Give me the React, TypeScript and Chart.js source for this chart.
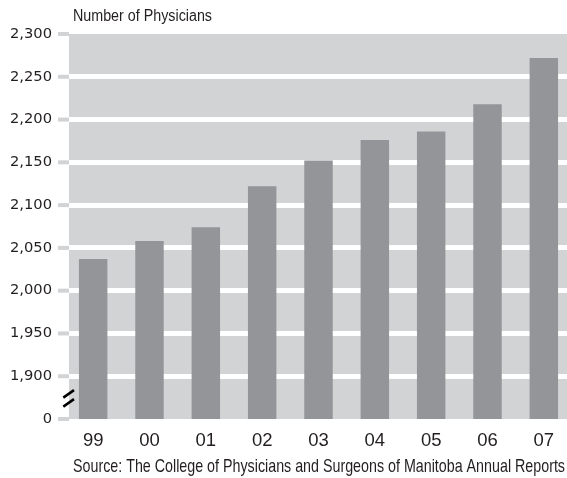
import React, { useEffect, useRef } from 'react';
import { Chart, registerables } from 'chart.js';

Chart.register(...registerables);

const years = ['99', '00', '01', '02', '03', '04', '05', '06', '07'];
const physicians = [2037, 2058, 2074, 2122, 2152, 2176, 2186, 2218, 2272];
const axisTitle = 'Number of Physicians';
const sourceNote = 'Source: The College of Physicians and Surgeons of Manitoba Annual Reports';
const yMin = 1850;
const yMax = 2300;
const yStep = 50;
const breakLabel = '0';

const TEXT = '#231f20';
const PLOT_BG = '#d1d3d4';
const BAR = '#939598';
const NUM_FONT = '"Liberation Sans", Arial, sans-serif';
const Y_FONT = '"DejaVu Sans", "Liberation Sans", sans-serif';
const TXT_FONT = '"Liberation Sans", Arial, sans-serif';

const decor = {
  id: 'decor',
  beforeDraw(chart: any) {
    const { ctx, chartArea: a } = chart;
    ctx.save();
    ctx.fillStyle = PLOT_BG;
    ctx.fillRect(a.left + 4, a.top, a.right - a.left - 4, a.bottom - a.top);
    ctx.restore();
  },
  afterDraw(chart: any) {
    const { ctx, chartArea: a, scales } = chart;
    const y = scales.y;
    const bgLeft = a.left + 4;
    ctx.save();
    ctx.fillStyle = PLOT_BG;
    y.ticks.forEach((t: any) => {
      const py = y.getPixelForValue(t.value);
      ctx.fillRect(bgLeft - 11, py - 2, 11, 4);
    });
    // axis break marks
    const y0 = y.getPixelForValue(yMin);
    const y1 = y.getPixelForValue(yMin + yStep);
    const mid = (y0 + y1) / 2;
    ctx.strokeStyle = '#000';
    ctx.lineWidth = 2.5;
    ctx.lineCap = 'butt';
    ctx.beginPath();
    ctx.moveTo(bgLeft - 5.7, mid);
    ctx.lineTo(bgLeft + 5, mid - 7.5);
    ctx.moveTo(bgLeft - 5.7, mid + 9);
    ctx.lineTo(bgLeft + 5, mid + 1.5);
    ctx.stroke();
    // texts
    ctx.fillStyle = TEXT;
    ctx.textAlign = 'left';
    ctx.textBaseline = 'alphabetic';
    ctx.font = '16px ' + TXT_FONT;
    ctx.fillText(axisTitle, bgLeft + 4, 21, 139);
    ctx.font = '18.5px ' + TXT_FONT;
    ctx.fillText(sourceNote, bgLeft + 4, 472, 492);
    ctx.restore();
  },
};

export default function App() {
  const ref = useRef<HTMLCanvasElement>(null);
  useEffect(() => {
    if (!ref.current) return;
    const chart = new Chart(ref.current, {
      type: 'bar',
      data: {
        labels: years,
        datasets: [
          {
            data: physicians,
            backgroundColor: BAR,
            borderWidth: 0,
            barPercentage: 0.505,
            categoryPercentage: 1,
          },
        ],
      },
      options: {
        animation: false,
        responsive: true,
        maintainAspectRatio: false,
        layout: { padding: { top: 34, right: 8, left: 0, bottom: 0 } },
        plugins: { legend: { display: false }, tooltip: { enabled: false }, title: { display: false } },
        scales: {
          x: {
            type: 'category',
            grid: { display: false },
            border: { display: false },
            ticks: { color: TEXT, font: { family: NUM_FONT, size: 18.5 }, padding: 3, maxRotation: 0 },
            afterFit(scale: any) {
              scale.height = 59;
            },
          },
          y: {
            type: 'linear',
            min: yMin,
            max: yMax,
            border: { display: false },
            grid: {
              drawTicks: false,
              lineWidth: 5,
              color: (c: any) =>
                c.tick && (c.tick.value === yMin || c.tick.value === yMax) ? 'rgba(0,0,0,0)' : '#ffffff',
            },
            ticks: {
              stepSize: yStep,
              padding: 13,
              color: TEXT,
              font: { family: Y_FONT, size: 14.7 },
              callback: (v: any) => (v === yMin ? breakLabel : Number(v).toLocaleString('en-US')),
            },
            afterFit(scale: any) {
              scale.width = 65;
            },
          },
        },
      },
      plugins: [decor],
    });
    return () => chart.destroy();
  }, []);
  return (
    <div style={{ position: 'absolute', left: 0, top: 0, width: 567, height: 478, overflow: 'hidden', background: '#fff' }}>
      <div style={{ position: 'relative', width: 580, height: 478 }}>
        <canvas ref={ref} />
      </div>
    </div>
  );
}
